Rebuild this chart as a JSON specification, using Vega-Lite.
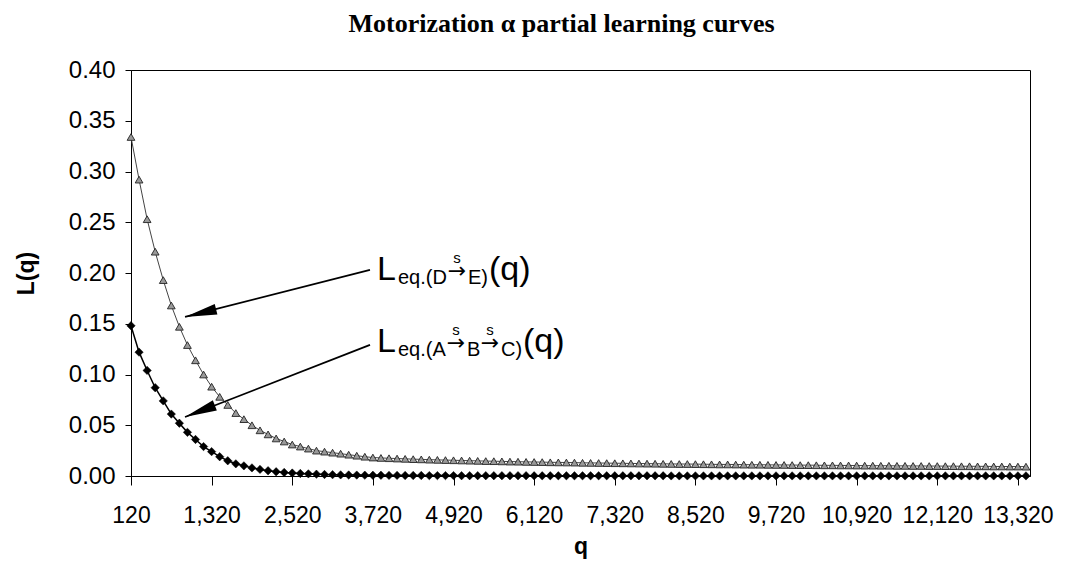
{
  "$schema": "https://vega.github.io/schema/vega-lite/v6.json",
  "width": 899,
  "height": 406,
  "autosize": {"type": "none"},
  "padding": {"left": 131, "top": 70, "right": 36, "bottom": 107},
  "background": "white",
  "config": {
    "view": {"stroke": "#000", "strokeWidth": 1},
    "font": "Liberation Sans",
    "axis": {"domainColor": "#000", "tickColor": "#000", "labelColor": "#000", "titleColor": "#000", "grid": false, "labelFont": "Liberation Sans", "titleFont": "Liberation Sans"}
  },
  "title": {
    "text": "Motorization α partial learning curves",
    "font": "Liberation Serif",
    "fontSize": 26,
    "fontWeight": "bold",
    "color": "#000",
    "anchor": "middle",
    "baseline": "bottom",
    "offset": -5,
    "dx": -19
  },
  "datasets": {
    "curves": [
      {"q":120,"t":0.334,"d":0.148},{"q":240,"t":0.292,"d":0.122},{"q":360,"t":0.253,"d":0.104},{"q":480,"t":0.221,"d":0.087},
      {"q":600,"t":0.193,"d":0.074},{"q":720,"t":0.168,"d":0.061},{"q":840,"t":0.147,"d":0.052},{"q":960,"t":0.129,"d":0.043},
      {"q":1080,"t":0.114,"d":0.036},{"q":1200,"t":0.100,"d":0.029},{"q":1320,"t":0.088,"d":0.024},{"q":1440,"t":0.078,"d":0.019},
      {"q":1560,"t":0.070,"d":0.015},{"q":1680,"t":0.062,"d":0.012},{"q":1800,"t":0.056,"d":0.010},{"q":1920,"t":0.050,"d":0.008},
      {"q":2040,"t":0.045,"d":0.0065},{"q":2160,"t":0.041,"d":0.0052},{"q":2280,"t":0.037,"d":0.0042},{"q":2400,"t":0.034,"d":0.0035},
      {"q":2520,"t":0.031,"d":0.0029},{"q":2640,"t":0.029,"d":0.0025},{"q":2760,"t":0.027,"d":0.0021},{"q":2880,"t":0.025,"d":0.0018},
      {"q":3000,"t":0.024,"d":0.0015},{"q":3120,"t":0.023,"d":0.0013},{"q":3240,"t":0.022,"d":0.0011},{"q":3360,"t":0.021,"d":0.0010},
      {"q":3480,"t":0.020,"d":0.0009},{"q":3600,"t":0.019,"d":0.0008},{"q":3720,"t":0.0182,"d":0.0007},{"q":3840,"t":0.0178,"d":0.0007},
      {"q":3960,"t":0.0175,"d":0.0006},{"q":4080,"t":0.0172,"d":0.0006},{"q":4200,"t":0.0169,"d":0.0005},{"q":4320,"t":0.0166,"d":0.0005},
      {"q":4440,"t":0.0164,"d":0.0005},{"q":4560,"t":0.0161,"d":0.0004},{"q":4680,"t":0.0159,"d":0.0004},{"q":4800,"t":0.0157,"d":0.0004},
      {"q":4920,"t":0.0155,"d":0.0004},{"q":5040,"t":0.0153,"d":0.0003},{"q":5160,"t":0.0151,"d":0.0003},{"q":5280,"t":0.0149,"d":0.0003},
      {"q":5400,"t":0.0147,"d":0.0003},{"q":5520,"t":0.0146,"d":0.0003},{"q":5640,"t":0.0144,"d":0.0003},{"q":5760,"t":0.0142,"d":0.0003},
      {"q":5880,"t":0.0141,"d":0.0003},{"q":6000,"t":0.0139,"d":0.0003},{"q":6120,"t":0.0138,"d":0.0002},{"q":6240,"t":0.0137,"d":0.0002},
      {"q":6360,"t":0.0135,"d":0.0002},{"q":6480,"t":0.0134,"d":0.0002},{"q":6600,"t":0.0133,"d":0.0002},{"q":6720,"t":0.0132,"d":0.0002},
      {"q":6840,"t":0.0130,"d":0.0002},{"q":6960,"t":0.0129,"d":0.0002},{"q":7080,"t":0.0128,"d":0.0002},{"q":7200,"t":0.0127,"d":0.0002},
      {"q":7320,"t":0.0126,"d":0.0002},{"q":7440,"t":0.0125,"d":0.0002},{"q":7560,"t":0.0124,"d":0.0002},{"q":7680,"t":0.0123,"d":0.0002},
      {"q":7800,"t":0.0122,"d":0.0002},{"q":7920,"t":0.0121,"d":0.0002},{"q":8040,"t":0.0120,"d":0.0002},{"q":8160,"t":0.0119,"d":0.0001},
      {"q":8280,"t":0.0118,"d":0.0001},{"q":8400,"t":0.0118,"d":0.0001},{"q":8520,"t":0.0117,"d":0.0001},{"q":8640,"t":0.0116,"d":0.0001},
      {"q":8760,"t":0.0115,"d":0.0001},{"q":8880,"t":0.0114,"d":0.0001},{"q":9000,"t":0.0114,"d":0.0001},{"q":9120,"t":0.0113,"d":0.0001},
      {"q":9240,"t":0.0112,"d":0.0001},{"q":9360,"t":0.0111,"d":0.0001},{"q":9480,"t":0.0111,"d":0.0001},{"q":9600,"t":0.0110,"d":0.0001},
      {"q":9720,"t":0.0109,"d":0.0001},{"q":9840,"t":0.0109,"d":0.0001},{"q":9960,"t":0.0108,"d":0.0001},{"q":10080,"t":0.0107,"d":0.0001},
      {"q":10200,"t":0.0107,"d":0.0001},{"q":10320,"t":0.0106,"d":0.0001},{"q":10440,"t":0.0105,"d":0.0001},{"q":10560,"t":0.0105,"d":0.0001},
      {"q":10680,"t":0.0104,"d":0.0001},{"q":10800,"t":0.0104,"d":0.0001},{"q":10920,"t":0.0103,"d":0.0001},{"q":11040,"t":0.0102,"d":0.0001},
      {"q":11160,"t":0.0102,"d":0.0001},{"q":11280,"t":0.0101,"d":0.0001},{"q":11400,"t":0.0101,"d":0.0001},{"q":11520,"t":0.0100,"d":0.0001},
      {"q":11640,"t":0.0100,"d":0.0001},{"q":11760,"t":0.0099,"d":0.0001},{"q":11880,"t":0.0099,"d":0.0001},{"q":12000,"t":0.0098,"d":0.0001},
      {"q":12120,"t":0.0098,"d":0.0001},{"q":12240,"t":0.0097,"d":0.0001},{"q":12360,"t":0.0097,"d":0.0001},{"q":12480,"t":0.0096,"d":0.0001},
      {"q":12600,"t":0.0096,"d":0.0001},{"q":12720,"t":0.0095,"d":0.0001},{"q":12840,"t":0.0095,"d":0.0001},{"q":12960,"t":0.0094,"d":0.0001},
      {"q":13080,"t":0.0094,"d":0.0001},{"q":13200,"t":0.0093,"d":0.0001},{"q":13320,"t":0.0093,"d":0.0001},{"q":13440,"t":0.0092,"d":0.0001}
    ],
    "lab1": [{"q": 3781, "L": 0.1931}],
    "lab2": [{"q": 3781, "L": 0.1222}],
    "arrow1": [{"q": 3677, "L": 0.203, "q2": 924, "L2": 0.1567}],
    "arrow2": [{"q": 3677, "L": 0.1291, "q2": 924, "L2": 0.0581}]
  },
  "encoding": {
    "x": {
      "field": "q", "type": "quantitative",
      "scale": {"domain": [120, 13500], "nice": false, "zero": false},
      "axis": {"values": [120,1320,2520,3720,4920,6120,7320,8520,9720,10920,12120,13320], "format": ",d", "labelFontSize": 23, "tickSize": 9, "labelPadding": 19, "title": "q", "titleFontSize": 23, "titleFontWeight": "bold", "titlePadding": 8, "labelFlush": false, "labelOverlap": false}
    },
    "y": {
      "field": "L", "type": "quantitative",
      "scale": {"domain": [0, 0.4], "nice": false},
      "axis": {"values": [0,0.05,0.1,0.15,0.2,0.25,0.3,0.35,0.4], "format": ".2f", "labelFontSize": 24, "tickSize": 6, "labelPadding": 10, "title": "L(q)", "titleFontSize": 23, "titleFontWeight": "bold", "titlePadding": 30, "labelOverlap": false}
    }
  },
  "layer": [
    {
      "data": {"name": "curves"},
      "transform": [{"fold": ["t", "d"], "as": ["s", "L"]}, {"filter": "datum.s === 't'"}],
      "mark": {"type": "line", "color": "#444", "strokeWidth": 1}
    },
    {
      "data": {"name": "curves"},
      "transform": [{"fold": ["t", "d"], "as": ["s", "L"]}, {"filter": "datum.s === 't'"}],
      "mark": {"type": "point", "shape": "triangle-up", "filled": true, "fill": "#999", "stroke": "#222", "strokeWidth": 0.9, "size": 60, "opacity": 1}
    },
    {
      "data": {"name": "curves"},
      "transform": [{"fold": ["t", "d"], "as": ["s", "L"]}, {"filter": "datum.s === 'd'"}],
      "mark": {"type": "line", "color": "#000", "strokeWidth": 1.5}
    },
    {
      "data": {"name": "curves"},
      "transform": [{"fold": ["t", "d"], "as": ["s", "L"]}, {"filter": "datum.s === 'd'"}],
      "mark": {"type": "point", "shape": "diamond", "filled": true, "fill": "#000", "stroke": "#000", "strokeWidth": 0.5, "size": 70, "opacity": 1}
    },
    {
      "data": {"name": "arrow1"},
      "mark": {"type": "rule", "color": "#000", "strokeWidth": 1.8},
      "encoding": {"x2": {"field": "q2"}, "y2": {"field": "L2"}}
    },
    {
      "data": {"name": "arrow1"},
      "mark": {"type": "point", "shape": "M0,0L-1,-0.17L-1,0.17Z", "filled": true, "fill": "#000", "strokeWidth": 0, "size": 4096, "angle": 165.9, "opacity": 1},
      "encoding": {"x": {"field": "q2", "type": "quantitative"}, "y": {"field": "L2", "type": "quantitative"}}
    },
    {
      "data": {"name": "arrow2"},
      "mark": {"type": "rule", "color": "#000", "strokeWidth": 1.8},
      "encoding": {"x2": {"field": "q2"}, "y2": {"field": "L2"}}
    },
    {
      "data": {"name": "arrow2"},
      "mark": {"type": "point", "shape": "M0,0L-1,-0.17L-1,0.17Z", "filled": true, "fill": "#000", "strokeWidth": 0, "size": 4096, "angle": 158.7, "opacity": 1},
      "encoding": {"x": {"field": "q2", "type": "quantitative"}, "y": {"field": "L2", "type": "quantitative"}}
    },
    {"data": {"name": "lab1"}, "mark": {"type": "text", "text": "L", "fontSize": 34, "align": "left", "baseline": "alphabetic", "dx": 0, "dy": 0, "color": "#000"}},
    {"data": {"name": "lab1"}, "mark": {"type": "text", "text": "eq.(D", "fontSize": 20, "align": "left", "baseline": "alphabetic", "dx": 21, "dy": 4, "color": "#000"}},
    {"data": {"name": "lab1"}, "mark": {"type": "text", "text": "→", "font": "DejaVu Sans", "fontSize": 22, "align": "center", "baseline": "alphabetic", "dx": 80, "dy": -2, "color": "#000"}},
    {"data": {"name": "lab1"}, "mark": {"type": "text", "text": "s", "fontSize": 15, "align": "center", "baseline": "alphabetic", "dx": 80, "dy": -17, "color": "#000"}},
    {"data": {"name": "lab1"}, "mark": {"type": "text", "text": "E)", "fontSize": 20, "align": "left", "baseline": "alphabetic", "dx": 91, "dy": 4, "color": "#000"}},
    {"data": {"name": "lab1"}, "mark": {"type": "text", "text": "(q)", "fontSize": 34, "align": "left", "baseline": "alphabetic", "dx": 112, "dy": 0, "color": "#000"}},
    {"data": {"name": "lab2"}, "mark": {"type": "text", "text": "L", "fontSize": 34, "align": "left", "baseline": "alphabetic", "dx": 0, "dy": 0, "color": "#000"}},
    {"data": {"name": "lab2"}, "mark": {"type": "text", "text": "eq.(A", "fontSize": 20, "align": "left", "baseline": "alphabetic", "dx": 21, "dy": 4, "color": "#000"}},
    {"data": {"name": "lab2"}, "mark": {"type": "text", "text": "→", "font": "DejaVu Sans", "fontSize": 22, "align": "center", "baseline": "alphabetic", "dx": 79, "dy": -2, "color": "#000"}},
    {"data": {"name": "lab2"}, "mark": {"type": "text", "text": "s", "fontSize": 15, "align": "center", "baseline": "alphabetic", "dx": 79, "dy": -17, "color": "#000"}},
    {"data": {"name": "lab2"}, "mark": {"type": "text", "text": "B", "fontSize": 20, "align": "left", "baseline": "alphabetic", "dx": 90, "dy": 4, "color": "#000"}},
    {"data": {"name": "lab2"}, "mark": {"type": "text", "text": "→", "font": "DejaVu Sans", "fontSize": 22, "align": "center", "baseline": "alphabetic", "dx": 113, "dy": -2, "color": "#000"}},
    {"data": {"name": "lab2"}, "mark": {"type": "text", "text": "s", "fontSize": 15, "align": "center", "baseline": "alphabetic", "dx": 113, "dy": -17, "color": "#000"}},
    {"data": {"name": "lab2"}, "mark": {"type": "text", "text": "C)", "fontSize": 20, "align": "left", "baseline": "alphabetic", "dx": 124, "dy": 4, "color": "#000"}},
    {"data": {"name": "lab2"}, "mark": {"type": "text", "text": "(q)", "fontSize": 34, "align": "left", "baseline": "alphabetic", "dx": 146, "dy": 0, "color": "#000"}}
  ]
}
